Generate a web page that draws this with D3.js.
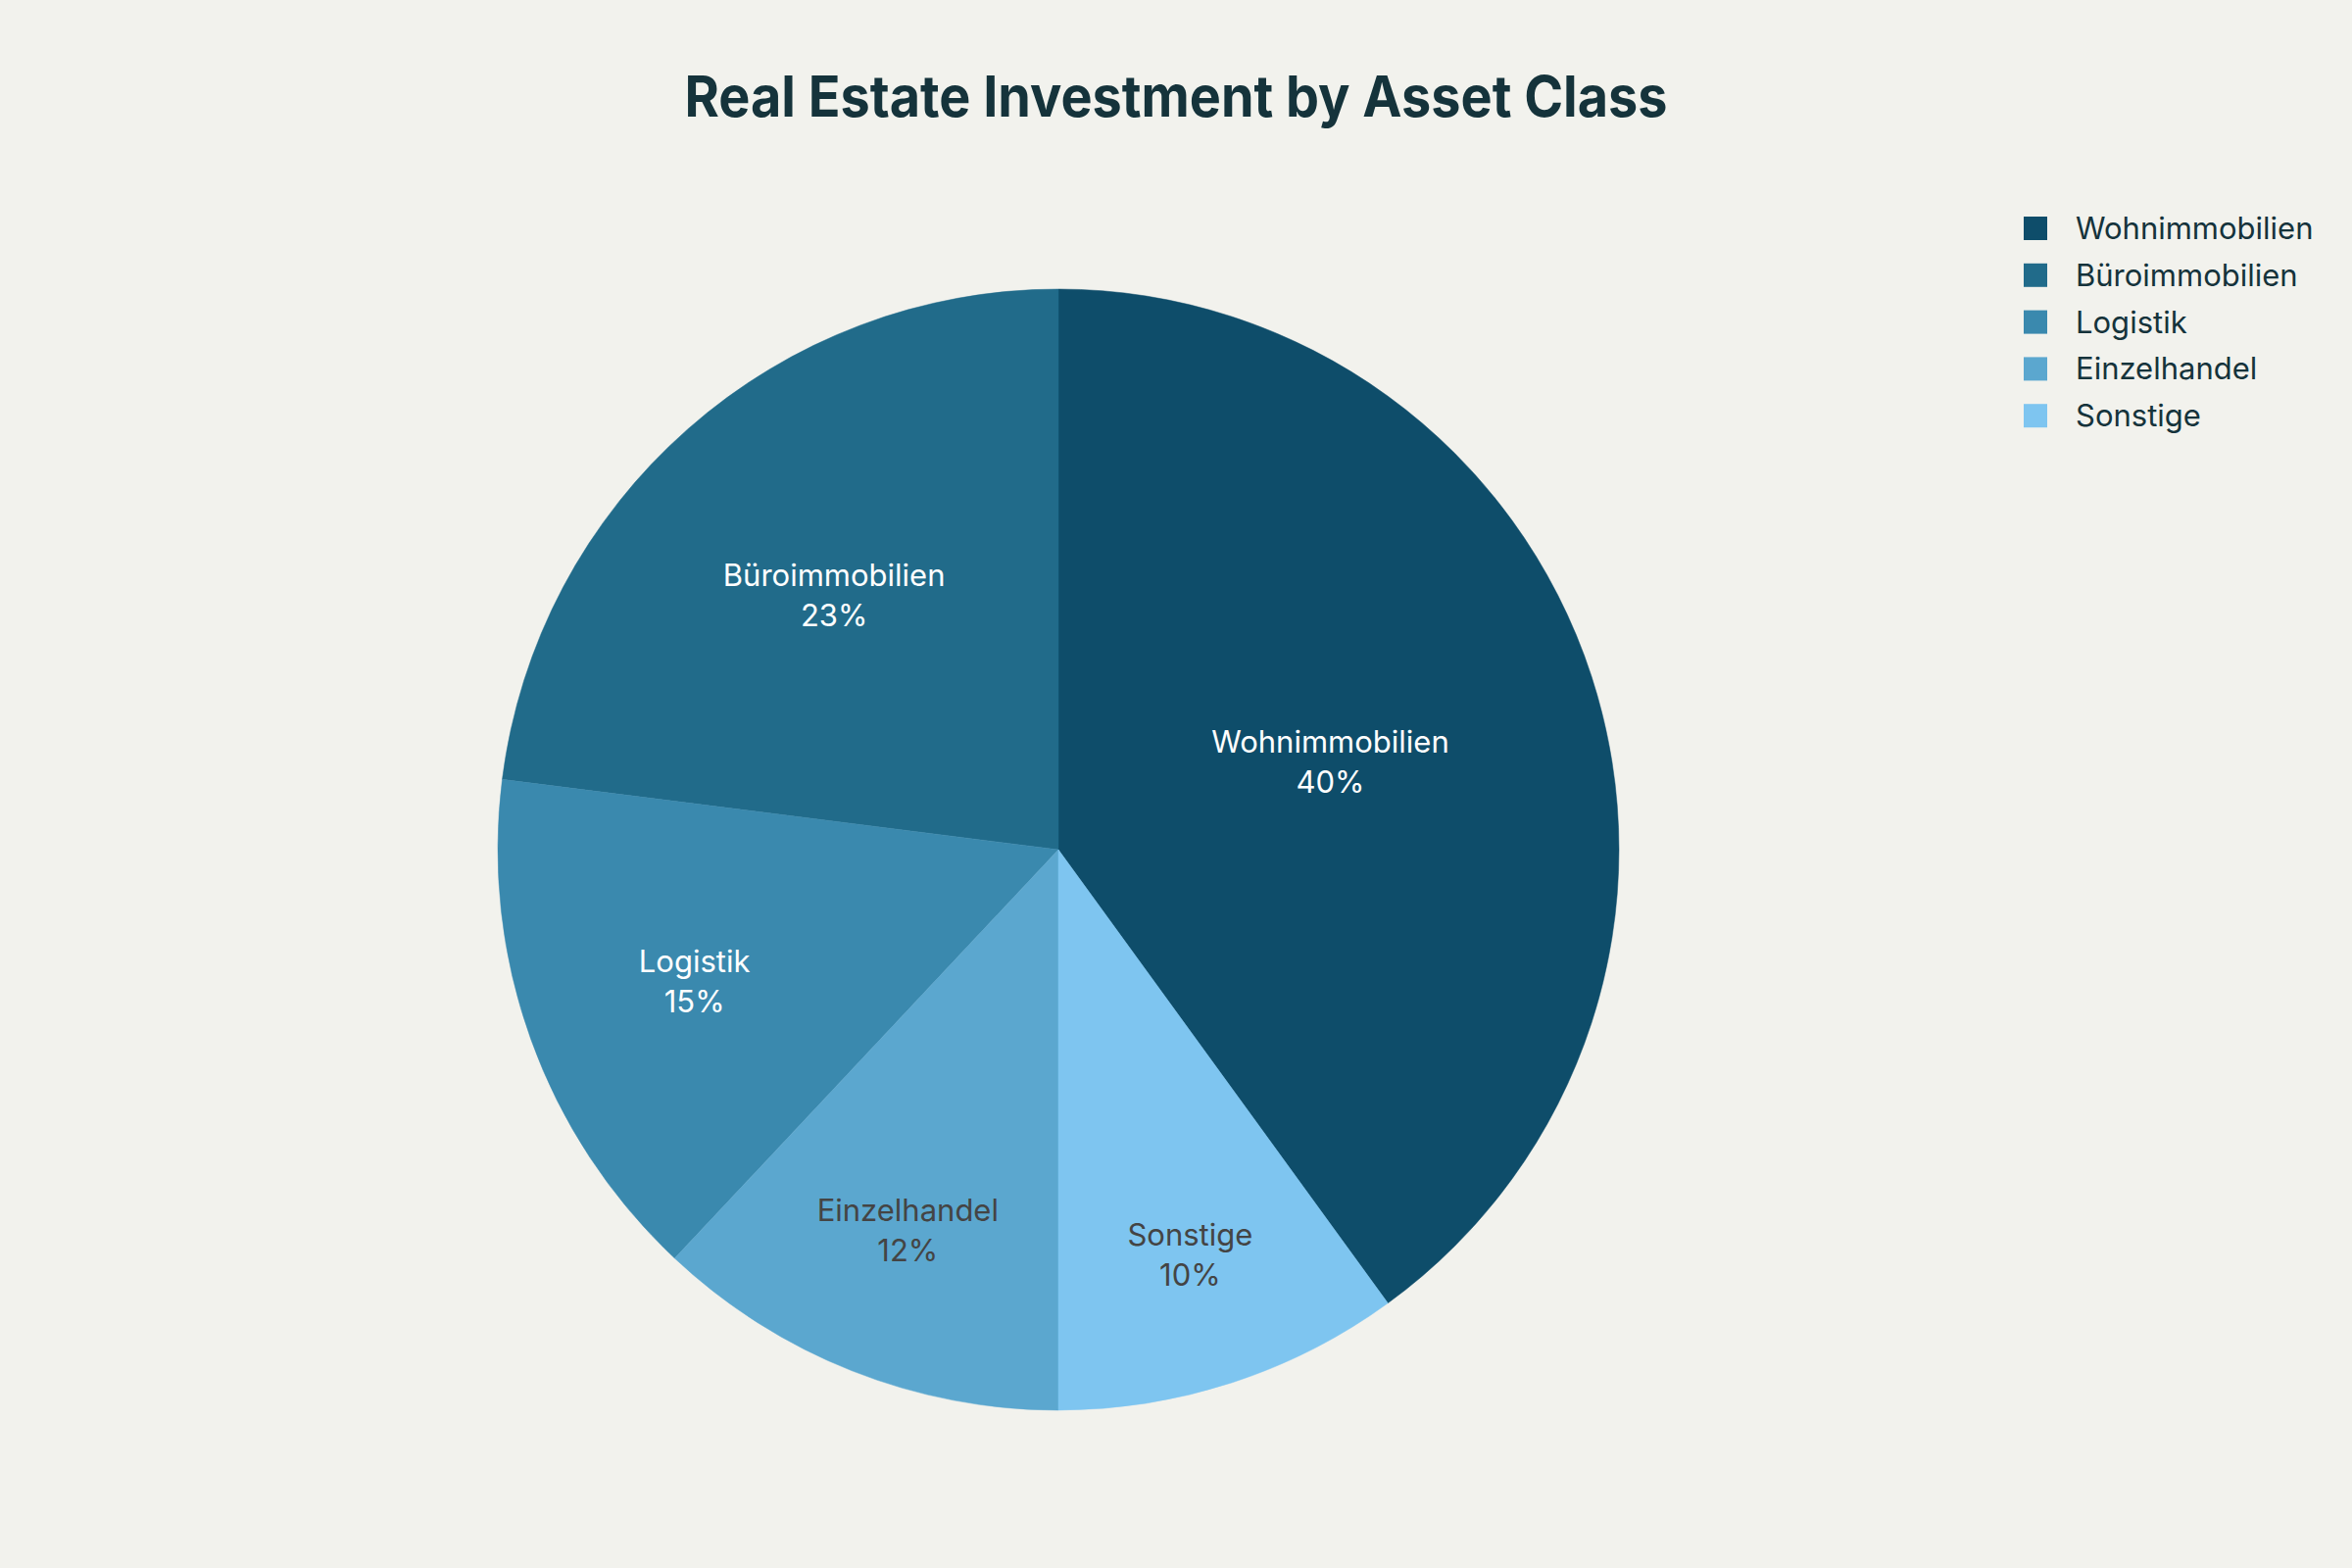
<!DOCTYPE html>
<html>
<head>
<meta charset="utf-8">
<script src="https://cdn.jsdelivr.net/npm/d3@7"></script>
<style>
  html, body { margin: 0; padding: 0; background: #f2f2ed; }
  svg { display: block; }
</style>
</head>
<body>
<div id="chart"></div>
<script>
// ---- data ----
const categories = ["Wohnimmobilien", "Büroimmobilien", "Logistik", "Einzelhandel", "Sonstige"];
const values = [40, 23, 15, 12, 10];
const colors = ["#0e4d6a", "#216b8a", "#3a89ae", "#5ba7cf", "#7ec5f0"];
const title = "Real Estate Investment by Asset Class";

// ---- layout (not data) ----
const W = 2400, H = 1600;
const cx = 1080, cy = 867, R = 572;
const labelFrac = [0.51, 0.605, 0.69, 0.73, 0.76];
const labelColor = ["#ffffff", "#ffffff", "#ffffff", "#444444", "#444444"];
const FONT = "Inter, 'Liberation Sans', Arial, sans-serif";

const svg = d3.select("#chart").append("svg")
  .attr("width", W).attr("height", H);

svg.append("rect").attr("width", W).attr("height", H).attr("fill", "#f2f2ed");

svg.append("text")
  .attr("x", 1200).attr("y", 119)
  .attr("text-anchor", "middle")
  .attr("font-family", FONT)
  .attr("font-weight", 700)
  .attr("font-size", 58)
  .attr("textLength", 1003)
  .attr("lengthAdjust", "spacingAndGlyphs")
  .attr("fill", "#15333b")
  .text(title);

const data = categories.map((c, i) => ({ name: c, value: values[i], i }));
const total = d3.sum(values);

// counterclockwise, sorted descending, first slice ending at 12 o'clock
const startA = 2 * Math.PI * values[0] / total;
const pie = d3.pie()
  .value(d => d.value)
  .sort((a, b) => b.value - a.value)
  .startAngle(startA)
  .endAngle(startA - 2 * Math.PI);

const arcs = pie(data);
const arc = d3.arc().innerRadius(0).outerRadius(R);
const color = d3.scaleOrdinal().domain(categories).range(colors);

const g = svg.append("g").attr("transform", `translate(${cx},${cy})`);

g.selectAll("path.slice").data(arcs).enter().append("path")
  .attr("class", "slice")
  .attr("d", arc)
  .attr("fill", d => color(d.data.name))
  .attr("stroke", d => color(d.data.name))
  .attr("stroke-width", 0.5);

const fmt = v => Math.round(v / total * 100) + "%";

const lab = g.selectAll("g.lab").data(arcs).enter().append("g")
  .attr("class", "lab")
  .attr("transform", d => {
    const a = (d.startAngle + d.endAngle) / 2;
    const r = R * labelFrac[d.data.i];
    return `translate(${Math.sin(a) * r},${-Math.cos(a) * r})`;
  });

lab.append("text")
  .attr("text-anchor", "middle")
  .attr("y", -9)
  .attr("font-family", FONT)
  .attr("font-size", 31)
  .attr("fill", d => labelColor[d.data.i])
  .text(d => d.data.name);

lab.append("text")
  .attr("text-anchor", "middle")
  .attr("y", 32)
  .attr("font-family", FONT)
  .attr("font-size", 31)
  .attr("fill", d => labelColor[d.data.i])
  .text(d => fmt(d.data.value));

// ---- legend ----
const leg = svg.append("g").attr("transform", "translate(2065,233)");
const rows = leg.selectAll("g").data(categories).enter().append("g")
  .attr("transform", (d, i) => `translate(0,${i * 47.8})`);
rows.append("rect")
  .attr("x", 0).attr("y", -12).attr("width", 24).attr("height", 24)
  .attr("fill", d => color(d));
rows.append("text")
  .attr("x", 53).attr("y", 11)
  .attr("font-family", FONT)
  .attr("font-size", 31)
  .attr("fill", "#15333b")
  .text(d => d);
</script>
</body>
</html>
